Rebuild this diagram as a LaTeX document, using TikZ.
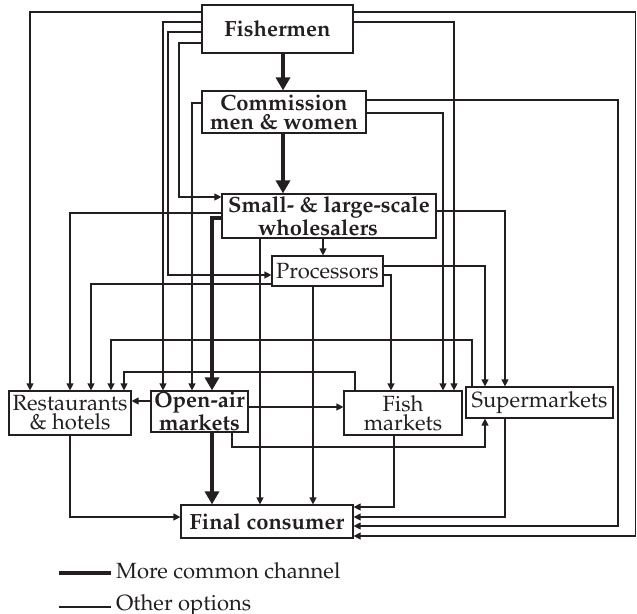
\documentclass[tikz,border=0pt]{standalone}
\usepackage[T1]{fontenc}
\usepackage{mathpazo}
\usetikzlibrary{arrows.meta}
\definecolor{ink}{RGB}{35,31,32}
\begin{document}
\begin{tikzpicture}[x=1pt,y=-1pt,
  every node/.append style={font=\fontsize{22}{19}\selectfont},
  box/.style={draw=ink,line width=1.2pt,fill=white,inner sep=0pt,align=center,text=ink},
  lbl/.style={text=ink,inner sep=0pt},
  arr/.style={draw=ink,line width=1.2pt,-{Triangle[length=7pt,width=7pt]}},
  thk/.style={draw=ink,line width=4pt,-{Triangle[length=13pt,width=14pt]}},
  thkline/.style={draw=ink,line width=4pt},
  thinline/.style={draw=ink,line width=1.2pt}]
\useasboundingbox (0,0) rectangle (637,613);

% nodes
\node[box,minimum width=151pt,minimum height=48pt] (fish) at (277.5,29) {\bfseries Fishermen};
\node[box,minimum width=164pt,minimum height=42pt] (comm) at (284,112) {\bfseries Commission\\\bfseries men \& women};
\node[box,minimum width=214pt,minimum height=44pt] (whole) at (329,216) {\bfseries Small- \& large-scale\\\bfseries wholesalers\hspace*{22pt}};
\node[box,minimum width=111pt,minimum height=30pt] (proc) at (327.5,271) {Processors};
\node[box,minimum width=122pt,minimum height=44pt] (rest) at (70,413) {Restaurants\\\& hotels};
\node[box,minimum width=97pt,minimum height=41pt] (open) at (199.5,411.5) {\bfseries Open-air\\\bfseries markets};
\node[box,minimum width=118pt,minimum height=44pt] (fishm) at (403,413) {Fish\\markets};
\node[box,minimum width=147pt,minimum height=31pt] (super) at (539.5,402.5) {Supermarkets};
\node[box,minimum width=172pt,minimum height=33pt] (cons) at (267,521.5) {\bfseries Final consumer};

% from fishermen
\draw[thk] (fish.south -| 283,0) -- (comm.north -| 283,0);
\draw[arr] (fish.west |- 0,12) -| (rest.north -| 30,0);
\draw[arr] (fish.west |- 0,22) -| (open.north -| 163,0);
\draw[arr] (fish.west |- 0,32) -| (168,275) -- (proc.west |- 0,275);
\draw[arr] (fish.west |- 0,43) -| (179,197) -- (whole.west |- 0,197);
\draw[arr] (fish.east |- 0,12) -| (635.5,536) -- (cons.east |- 0,536);
\draw[arr] (fish.east |- 0,22) -| (fishm.north -| 454,0);

% from commission
\draw[thk] (comm.south -| 283,0) -- (whole.north -| 283,0);
\draw[arr] (comm.west |- 0,103) -| (open.north -| 192,0);
\draw[arr] (comm.east |- 0,100) -| (618,526) -- (cons.east |- 0,526);
\draw[arr] (comm.east |- 0,113) -| (fishm.north -| 443,0);

% from wholesalers
\draw[arr] (whole.west |- 0,213) -| (rest.north -| 70,0);
\draw[thk] (whole.west |- 0,218) -| (open.north -| 212,0);
\draw[arr] (whole.south -| 260,0) -- (cons.north -| 260,0);
\draw[arr] (whole.south -| 323,0) -- (proc.north -| 323,0);
\draw[arr] (whole.east |- 0,211) -| (super.north -| 505,0);

% from processors
\draw[arr] (proc.west |- 0,284) -| (rest.north -| 91,0);
\draw[arr] (proc.south -| 313,0) -- (cons.north -| 313,0);
\draw[arr] (proc.east |- 0,266) -| (super.north -| 485,0);
\draw[arr] (proc.east |- 0,275) -| (fishm.north -| 391,0);

% from supermarkets
\draw[arr] (super.north -| 472,0) |- (111,340) -- (rest.north -| 111,0);
\draw[arr] (super.south -| 505,0) |- (cons.east |- 0,517);

% from fish markets
\draw[arr] (fishm.north -| 355,0) |- (124,372) -- (rest.north -| 124,0);
\draw[arr] (fishm.south -| 394,0) |- (cons.east |- 0,507);

% from open-air markets
\draw[arr] (open.west |- 0,401) -- (rest.east |- 0,401);
\draw[thk] (open.south -| 212,0) -- (cons.north -| 212,0);
\draw[arr] (open.east |- 0,407) -- (fishm.west |- 0,407);
\draw[arr] (open.south -| 232,0) |- (485,447) -- (super.south -| 485,0);

% from restaurants
\draw[arr] (rest.south -| 70,0) |- (cons.west |- 0,517);

% legend
\node[lbl,anchor=base west] (l1) at (116,578) {More common channel};
\node[lbl,anchor=base west] (l2) at (116,610) {Other options};
\coordinate (s1) at (59,573);
\coordinate (s2) at (59,607);
\draw[thkline] (s1) -- ([xshift=-5pt]l1.west |- s1);
\draw[thinline] (s2) -- ([xshift=-5pt]l2.west |- s2);
\end{tikzpicture}
\end{document}
